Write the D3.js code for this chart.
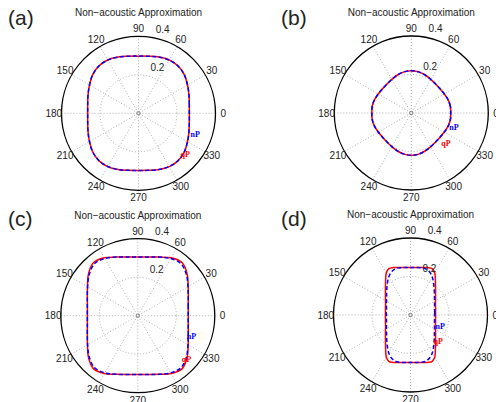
<!DOCTYPE html>
<html>
<head>
<meta charset="utf-8">
<script src="https://d3js.org/d3.v7.min.js"></script>
<style>
  body { margin: 0; background: #fff; }
  svg { display: block; }
  text { font-family: "Liberation Sans", Arial, sans-serif; fill: #222; }
</style>
</head>
<body>
<div id="my_dataviz"></div>
<script>
  // sampling angles in degrees (counter-clockwise from 0)
  var anglesCoarse = d3.range(0, 360, 10);
  var anglesFine = d3.range(0, 360, 5);

  // axis ticks
  var angleTicks = [0, 30, 60, 90, 120, 150, 180, 210, 240, 270, 300, 330];
  var radialTicks = [0.2, 0.4];
  var panelNames = ["(a)", "(b)", "(c)", "(d)"];
  var titleText = "Non\u2212acoustic Approximation";

  // (a) velocity, every 10 degrees
  var qP_a = [0.264,0.268,0.279,0.294,0.311,0.321,0.320,0.311,0.301,0.297,
              0.301,0.311,0.320,0.321,0.311,0.294,0.279,0.268,
              0.264,0.268,0.279,0.294,0.311,0.321,0.320,0.311,0.301,0.297,
              0.301,0.311,0.320,0.321,0.311,0.294,0.279,0.268];
  var nP_a = [0.264,0.268,0.279,0.294,0.311,0.320,0.319,0.311,0.301,0.297,
              0.301,0.311,0.319,0.320,0.311,0.294,0.279,0.268,
              0.264,0.268,0.279,0.294,0.311,0.320,0.319,0.311,0.301,0.297,
              0.301,0.311,0.319,0.320,0.311,0.294,0.279,0.268];

  // (b) velocity, every 10 degrees
  var qP_b = [0.205,0.206,0.203,0.198,0.195,0.196,0.202,0.210,0.217,0.220,
              0.217,0.210,0.202,0.196,0.195,0.198,0.203,0.206,
              0.205,0.206,0.203,0.198,0.195,0.196,0.202,0.210,0.217,0.220,
              0.217,0.210,0.202,0.196,0.195,0.198,0.203,0.206];
  var nP_b = [0.205,0.206,0.203,0.198,0.195,0.196,0.202,0.210,0.217,0.220,
              0.217,0.210,0.202,0.196,0.195,0.198,0.203,0.206,
              0.205,0.206,0.203,0.198,0.195,0.196,0.202,0.210,0.217,0.220,
              0.217,0.210,0.202,0.196,0.195,0.198,0.203,0.206];

  // (c) velocity, every 10 degrees
  var qP_c = [0.262,0.266,0.279,0.302,0.335,0.359,0.347,0.324,0.310,0.305,
              0.310,0.324,0.347,0.359,0.335,0.302,0.279,0.266,
              0.262,0.266,0.279,0.302,0.335,0.359,0.347,0.324,0.310,0.305,
              0.310,0.324,0.347,0.359,0.335,0.302,0.279,0.266];
  var nP_c = [0.262,0.266,0.279,0.301,0.330,0.351,0.343,0.324,0.310,0.305,
              0.310,0.324,0.343,0.351,0.330,0.301,0.279,0.266,
              0.262,0.266,0.279,0.301,0.330,0.351,0.343,0.324,0.310,0.305,
              0.310,0.324,0.343,0.351,0.330,0.301,0.279,0.266];

  // (d) velocity, every 5 degrees
  var qP_d = [0.130,0.131,0.132,0.135,0.138,0.143,0.150,0.159,0.170,0.184,0.202,0.225,0.252,0.266,0.262,0.256,0.251,0.248,0.247,
              0.248,0.251,0.256,0.262,0.266,0.252,0.225,0.202,0.184,0.170,0.159,0.150,0.143,0.138,0.135,0.132,0.131,
              0.130,0.131,0.132,0.135,0.138,0.143,0.150,0.159,0.170,0.184,0.202,0.225,0.252,0.266,0.262,0.256,0.251,0.248,0.247,
              0.248,0.251,0.256,0.262,0.266,0.252,0.225,0.202,0.184,0.170,0.159,0.150,0.143,0.138,0.135,0.132,0.131];
  var nP_d = [0.125,0.126,0.127,0.129,0.133,0.138,0.144,0.152,0.162,0.175,0.190,0.208,0.227,0.242,0.251,0.253,0.250,0.248,0.247,
              0.248,0.250,0.253,0.251,0.242,0.227,0.208,0.190,0.175,0.162,0.152,0.144,0.138,0.133,0.129,0.127,0.126,
              0.125,0.126,0.127,0.129,0.133,0.138,0.144,0.152,0.162,0.175,0.190,0.208,0.227,0.242,0.251,0.253,0.250,0.248,0.247,
              0.248,0.250,0.253,0.251,0.242,0.227,0.208,0.190,0.175,0.162,0.152,0.144,0.138,0.133,0.129,0.127,0.126];

  var width = 496, height = 402;
  var rMax = 77;

  // panel layout: polar centre, letter position and curve label offsets
  var layout = [
    {cx: 138.5, cy: 113.3, lx: 8,   ly: 25,  nPoff: [52, 24], qPoff: [42, 44]},
    {cx: 411.3, cy: 113.0, lx: 281, ly: 25,  nPoff: [38, 17], qPoff: [30, 33]},
    {cx: 137.8, cy: 315.7, lx: 8,   ly: 226, nPoff: [49, 23], qPoff: [44, 46]},
    {cx: 410.5, cy: 315.0, lx: 281, ly: 226, nPoff: [25, 14], qPoff: [23, 29]}
  ];

  var panels = [
    {angles: anglesCoarse, qP: qP_a, nP: nP_a},
    {angles: anglesCoarse, qP: qP_b, nP: nP_b},
    {angles: anglesCoarse, qP: qP_c, nP: nP_c},
    {angles: anglesFine,   qP: qP_d, nP: nP_d}
  ];

  var svg = d3.select("#my_dataviz").append("svg")
      .attr("width", width)
      .attr("height", height);

  // radius scale shared by all panels
  var r = d3.scaleLinear().domain([0, 0.4]).range([0, rMax]);
  var toRad = Math.PI / 180;

  var line = d3.lineRadial()
      .angle(function(d) { return (90 - d.deg) * toRad; })
      .radius(function(d) { return r(d.v); })
      .curve(d3.curveCatmullRomClosed.alpha(0.5));

  panels.forEach(function(p, i) {
    var L = layout[i];
    var g = svg.append("g")
        .attr("transform", "translate(" + L.cx + "," + L.cy + ")");

    // spokes
    g.selectAll(".spoke")
      .data([0, 30, 60, 90, 120, 150])
      .enter().append("line")
        .attr("x1", function(d) { return -r(0.4) * Math.cos(d * toRad); })
        .attr("y1", function(d) { return r(0.4) * Math.sin(d * toRad); })
        .attr("x2", function(d) { return r(0.4) * Math.cos(d * toRad); })
        .attr("y2", function(d) { return -r(0.4) * Math.sin(d * toRad); })
        .style("stroke", "#9a9a9a")
        .style("stroke-width", 0.8)
        .style("stroke-dasharray", "1,2");

    // inner dotted circles
    g.selectAll(".ring")
      .data(radialTicks.slice(0, -1))
      .enter().append("circle")
        .attr("r", function(d) { return r(d); })
        .style("fill", "none")
        .style("stroke", "#9a9a9a")
        .style("stroke-width", 0.8)
        .style("stroke-dasharray", "1,2");
    g.append("circle")
        .attr("r", 1.8)
        .style("fill", "none")
        .style("stroke", "#777")
        .style("stroke-width", 0.7);

    // outer circle
    g.append("circle")
        .attr("r", r(0.4))
        .style("fill", "none")
        .style("stroke", "#000")
        .style("stroke-width", 1.3);

    // angle labels
    g.selectAll(".alabel")
      .data(angleTicks)
      .enter().append("text")
        .attr("x", function(d) { return r(0.4) * 1.1 * Math.cos(d * toRad); })
        .attr("y", function(d) { return -r(0.4) * 1.1 * Math.sin(d * toRad); })
        .attr("dy", "0.35em")
        .attr("text-anchor", "middle")
        .style("font-size", "10px")
        .text(function(d) { return d; });

    // curves: qP solid red, nP dashed blue on top
    var qPts = p.angles.map(function(a, k) { return {deg: a, v: p.qP[k]}; });
    var nPts = p.angles.map(function(a, k) { return {deg: a, v: p.nP[k]}; });
    g.append("path")
        .attr("d", line(qPts))
        .style("fill", "none")
        .style("stroke", "#ff0000")
        .style("stroke-width", 1.5);
    g.append("path")
        .attr("d", line(nPts))
        .style("fill", "none")
        .style("stroke", "#0000ff")
        .style("stroke-width", 1.5)
        .style("stroke-dasharray", "4,2.5");

    // radial tick labels along 82 degrees
    g.selectAll(".rlabel")
      .data(radialTicks)
      .enter().append("text")
        .attr("x", function(d) { return r(d + 0.01) * Math.cos(82 * toRad) + 6.3; })
        .attr("y", function(d) { return -r(d + 0.01) * Math.sin(82 * toRad) - 2.5; })
        .style("font-size", "10px")
        .text(function(d) { return d; });

    // curve labels
    g.append("text")
        .attr("x", L.nPoff[0]).attr("y", L.nPoff[1])
        .style("font-family", "'Liberation Serif', 'Times New Roman', serif")
        .style("font-weight", "bold")
        .style("font-size", "8px")
        .style("fill", "#0000ff")
        .text("nP");
    g.append("text")
        .attr("x", L.qPoff[0]).attr("y", L.qPoff[1])
        .style("font-family", "'Liberation Serif', 'Times New Roman', serif")
        .style("font-weight", "bold")
        .style("font-size", "8px")
        .style("fill", "#ff0000")
        .text("qP");

    // title and panel letter
    svg.append("text")
        .attr("x", L.cx)
        .attr("y", L.cy - 97)
        .attr("text-anchor", "middle")
        .style("font-size", "10px")
        .text(titleText);
    svg.append("text")
        .attr("x", L.lx)
        .attr("y", L.ly)
        .style("font-size", "21px")
        .text(panelNames[i]);
  });
</script>
</body>
</html>
